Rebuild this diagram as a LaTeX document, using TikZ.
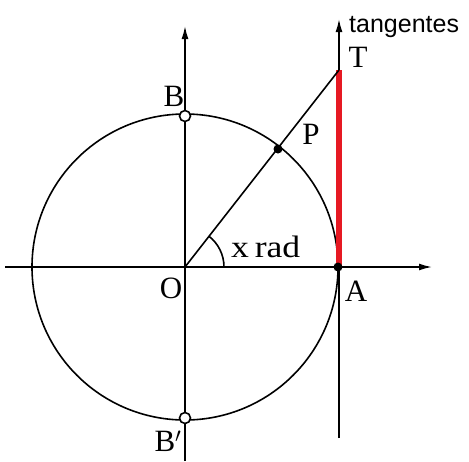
\documentclass[tikz,border=0pt]{standalone}
\usepackage{fontspec}
\setmainfont{Liberation Serif}
\newfontfamily\labelsans{Liberation Sans}
\usetikzlibrary{arrows.meta}
\definecolor{tanred}{RGB}{230,25,35}
\begin{document}
\begin{tikzpicture}[x=1pt,y=-1pt,
  axis/.style={line width=1.6pt,-{Latex[length=13pt,width=7pt]}},
  thin line/.style={line width=1.6pt},
  lbl/.style={font=\fontsize{31}{31}\selectfont,inner sep=0pt},
  opendot/.style={circle,draw,line width=1.6pt,fill=white,minimum size=11pt,inner sep=0pt},
  fulldot/.style={circle,fill=black,minimum size=9pt,inner sep=0pt}]
\useasboundingbox (0,0) rectangle (469,461);
\coordinate (O) at (185,267);
\coordinate (xL) at (5,267);
\coordinate (xR) at (432,267);
\coordinate (yB) at (185,461);
\coordinate (yT) at (185,26);
\coordinate (tB) at (339,438);
\coordinate (tT) at (339,19);
\coordinate (T) at (339,70);
\coordinate (Ar) at (339,267);
% axes
\draw[axis] (xL) -- (xR);
\draw[axis] (yB) -- (yT);
\draw[axis] (tB) -- (tT);
% circle
\draw[thin line] (O) circle[radius=153];
% red tangent segment
\draw[tanred,line width=5.5pt] (Ar) -- (T);
% ray O-T
\draw[thin line] (O) -- (T);
% angle arc
\draw[thin line] ([xshift=39pt]O) arc[start angle=0,end angle=-52.2,radius=39];
% points
\node[opendot] (B) at (185,116) {};
\node[opendot] (Bp) at (185,418) {};
\node[fulldot] (P) at (278,149) {};
\node[fulldot] (A) at (338,267) {};
% labels
\node[lbl] (lB) at (174,96) {B};
\node[lbl] (lBp) at (168,441) {B$'$};
\node[lbl] (lO) at (171,288) {O};
\node[lbl] (lA) at (356,291) {A};
\node[lbl] (lP) at (311,134) {P};
\node[lbl] (lT) at (358,57) {T};
\node[lbl,anchor=base west] (lx) at (231,257) {\scalebox{1.15}[1]{x\hspace{5pt}rad}};
\node[inner sep=0pt,anchor=base west,font=\labelsans\fontsize{25}{25}\selectfont] (lt) at (349,32) {tangentes};
\end{tikzpicture}
\end{document}
